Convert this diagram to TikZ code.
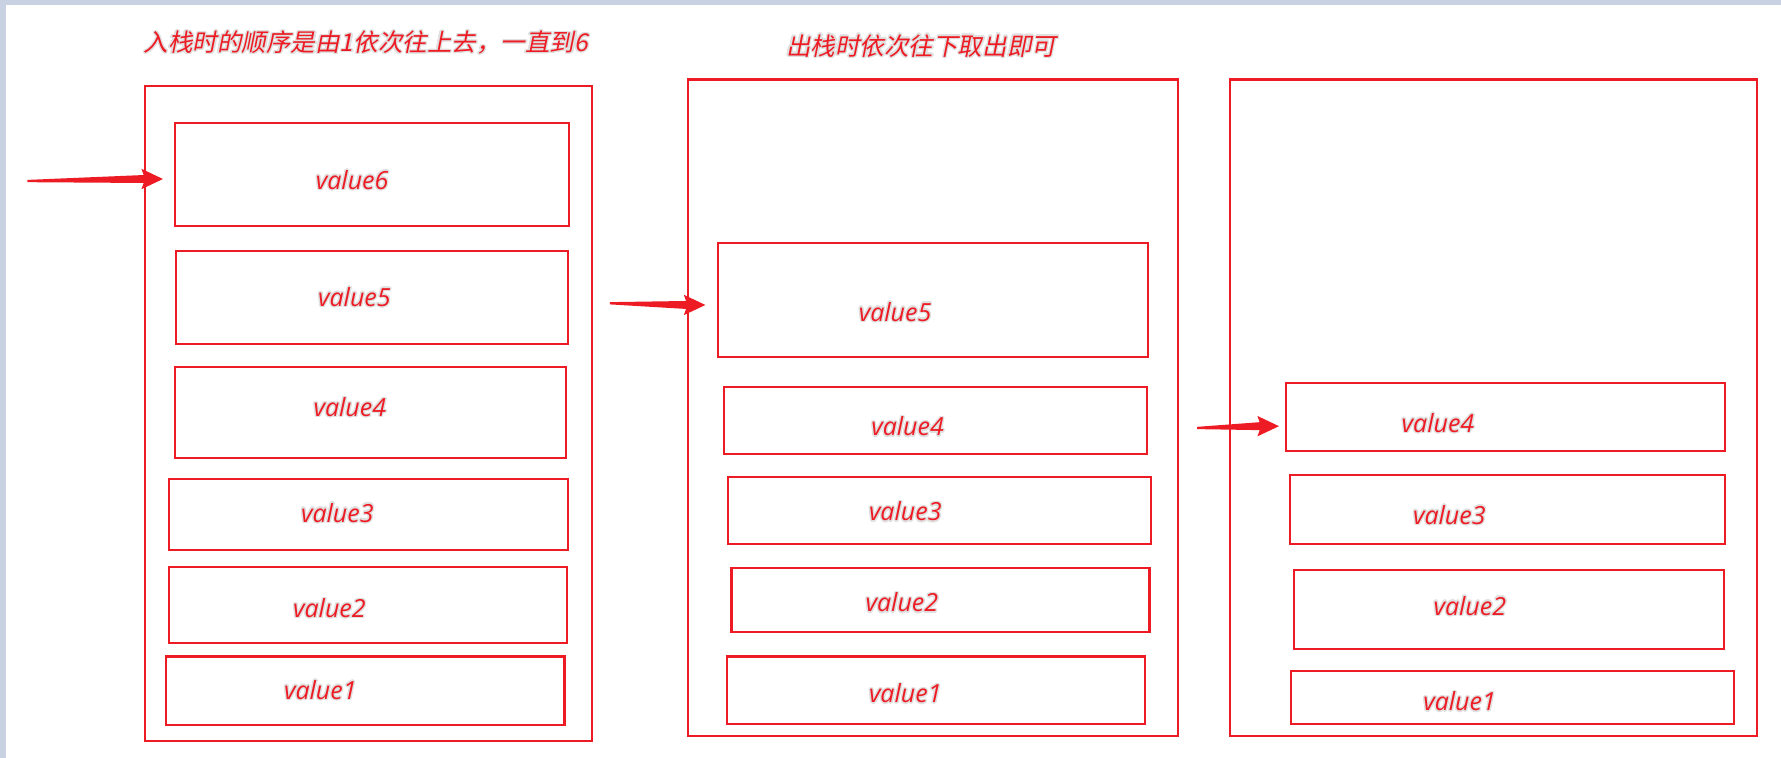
\documentclass[tikz,border=0pt]{standalone}
\usepackage{fontspec}
\usepackage{contour}
\usetikzlibrary{calc}
\newfontfamily\cjkfont{Noto Sans CJK SC}[FakeSlant=0.2]
\newfontfamily\valfont{Open Sans}
\definecolor{sred}{HTML}{ED1C24}
\definecolor{bgblue}{HTML}{C9D2E2}
\contourlength{0.6pt}
\contournumber{16}
\newcommand\stackrect[5]{\node[stackbox, minimum width={(#4-#2)*0.5pt}, minimum height={(#5-#3)*0.5pt}] (#1) at ({(#2+#4)/2},{(#3+#5)/2}) {};}
\newcommand\taperarrow[2]{\fill[sred] ($(#1)+(0,-1)$) -- ($(#2)+(-17,-3.5)$) -- ($(#2)+(-19,-9)$) -- (#2) -- ($(#2)+(-19,9)$) -- ($(#2)+(-17,3.5)$) -- ($(#1)+(0,1)$) -- cycle;}
\tikzset{
  stackbox/.style={draw=sred, line width=0.9pt, inner sep=0pt, outer sep=0pt},
  val/.style={font=\valfont\itshape\fontsize{11}{13}\selectfont, text=sred, inner sep=0pt},
  titletext/.style={font=\cjkfont\fontsize{10.8}{13}\selectfont, text=sred, inner sep=0pt},
}
\begin{document}
\begin{tikzpicture}[x=0.5pt, y=-0.5pt]
\useasboundingbox (0,0) rectangle (1568,667);
\fill[bgblue] (0,0) rectangle (1568,667);
\fill[white] (5,4) rectangle (1568,667);

% titles
\node[titletext] (title1) at (322,38) {\contour{black!12}{入栈时的顺序是由1依次往上去，一直到6}};
\node[titletext] (title2) at (811,41) {\contour{black!12}{出栈时依次往下取出即可}};

% left stack
\stackrect{L}{128}{76}{521}{652}
\stackrect{L6}{154}{108}{501}{199}
\stackrect{L5}{155}{221}{500}{303}
\stackrect{L4}{154}{323}{498}{403}
\stackrect{L3}{149}{422}{500}{484}
\stackrect{L2}{149}{499}{499}{566}
\stackrect{L1}{146}{578}{497}{638}
\node[val] (tL6) at (310,159) {\contour{black!12}{value6}};
\node[val] (tL5) at (312,262) {\contour{black!12}{value5}};
\node[val] (tL4) at (308,359) {\contour{black!12}{value4}};
\node[val] (tL3) at (297,452) {\contour{black!12}{value3}};
\node[val] (tL2) at (290,536) {\contour{black!12}{value2}};
\node[val] (tL1) at (282,608) {\contour{black!12}{value1}};

% middle stack
\stackrect{M}{606}{70}{1037}{648}
\stackrect{M5}{632}{214}{1011}{314}
\stackrect{M4}{637}{341}{1010}{400}
\stackrect{M3}{641}{420}{1013}{479}
\stackrect{M2}{644}{500}{1012}{556}
\stackrect{M1}{640}{578}{1008}{637}
\node[val] (tM5) at (788,275) {\contour{black!12}{value5}};
\node[val] (tM4) at (799,376) {\contour{black!12}{value4}};
\node[val] (tM3) at (797,451) {\contour{black!12}{value3}};
\node[val] (tM2) at (794,531) {\contour{black!12}{value2}};
\node[val] (tM1) at (797,611) {\contour{black!12}{value1}};

% right stack
\stackrect{R}{1083}{70}{1547}{648}
\stackrect{R4}{1132}{337}{1519}{397}
\stackrect{R3}{1136}{418}{1519}{479}
\stackrect{R2}{1139}{502}{1518}{571}
\stackrect{R1}{1137}{591}{1527}{637}
\node[val] (tR4) at (1266,373) {\contour{black!12}{value4}};
\node[val] (tR3) at (1276,454) {\contour{black!12}{value3}};
\node[val] (tR2) at (1294,534) {\contour{black!12}{value2}};
\node[val] (tR1) at (1285,618) {\contour{black!12}{value1}};

% arrows
\coordinate (a1tail) at (24,159.4);
\coordinate (a1tip) at (143.5,157.6);
\coordinate (a2tail) at (537,267);
\coordinate (a2tip) at (621,268.5);
\coordinate (a3tail) at (1054,376.8);
\coordinate (a3tip) at (1126,375.2);
\taperarrow{a1tail}{a1tip}
\taperarrow{a2tail}{a2tip}
\taperarrow{a3tail}{a3tip}
\end{tikzpicture}
\end{document}
